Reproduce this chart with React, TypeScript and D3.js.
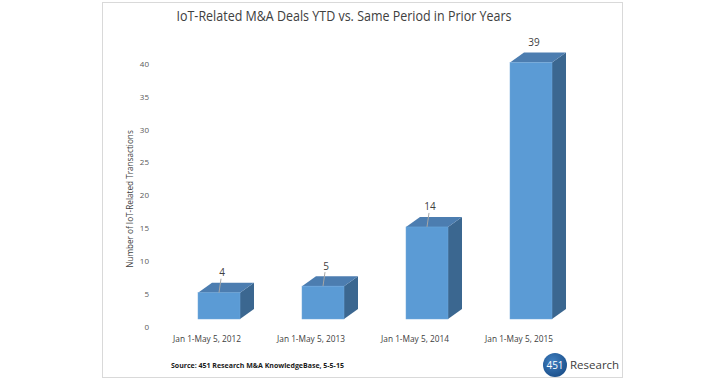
import React from "react";
import * as d3 from "d3";

const categories = ["Jan 1-May 5, 2012", "Jan 1-May 5, 2013", "Jan 1-May 5, 2014", "Jan 1-May 5, 2015"];
const deals = [4, 5, 14, 39];
const yTicks = [0, 5, 10, 15, 20, 25, 30, 35, 40];
const title = "IoT-Related M&A Deals YTD vs. Same Period in Prior Years";
const yTitle = "Number of IoT-Related Transactions";
const source = "Source:  451 Research M&A KnowledgeBase, 5-5-15";

const W = 724;
const H = 381;
const FONT = "'Open Sans', 'Noto Sans', sans-serif";

export default function App() {
  const x = d3.scaleBand<string>().domain(categories).range([167, 583]).paddingInner(0).paddingOuter(0);
  const y = d3.scaleLinear().domain([0, 40]).range([319, 56]);
  const barW = 42;
  const dx = 14;
  const dy = -10;
  const front = "#5B9BD5";
  const top = "#4C7DB0";
  const side = "#3B6790";

  return (
    <svg width={W} height={H} style={{ position: "absolute", left: 0, top: 0, background: "#fff" }}>
      <rect x={0} y={0} width={W} height={H} fill="#fff" />
      <rect x={102.5} y={2.5} width={520} height={375} fill="#fff" stroke="#d9d9d9" strokeWidth={1} />
      <text x={344} y={21} textAnchor="middle" fontFamily={FONT} fontSize={14.5} fill="#404040"
        textLength={335} lengthAdjust="spacingAndGlyphs">
        {title}
      </text>
      {yTicks.map((t) => (
        <text key={t} x={149} y={y(t) + 8} dy="0.35em" textAnchor="end" fontFamily={FONT} fontSize={8} fill="#595959">
          {t}
        </text>
      ))}
      <text
        transform={`translate(130,199) rotate(-90)`}
        textAnchor="middle"
        dy="0.35em"
        fontFamily={FONT}
        fontSize={8.2}
        fill="#404040"
      >
        {yTitle}
      </text>
      {categories.map((c, i) => {
        const cx = (x(c) as number) + x.bandwidth() / 2;
        const x0 = cx - barW / 2;
        const x1 = cx + barW / 2;
        const yb = y(0);
        const yt = y(deals[i]);
        const topPts = [
          [x0, yt],
          [x1, yt],
          [x1 + dx, yt + dy],
          [x0 + dx, yt + dy],
        ];
        const sidePts = [
          [x1, yt],
          [x1 + dx, yt + dy],
          [x1 + dx, yb + dy],
          [x1, yb],
        ];
        const lx = cx + 3;
        const ly = yt - 20;
        return (
          <g key={c}>
            <polygon points={sidePts.map((p) => p.join(",")).join(" ")} fill={side} />
            <polygon points={topPts.map((p) => p.join(",")).join(" ")} fill={top} />
            <rect x={x0} y={yt} width={barW} height={yb - yt} fill={front} stroke="#6FA8DC" strokeWidth={0.5} />
            {i < categories.length - 1 && (
              <line x1={lx - 1} y1={ly + 6} x2={cx} y2={yt} stroke="#a6a6a6" strokeWidth={1} />
            )}
            <text x={lx} y={ly} dy="0.35em" textAnchor="middle" fontFamily={FONT} fontSize={10} fill="#404040">
              {deals[i]}
            </text>
            <text x={cx - 12} y={339} dy="0.35em" textAnchor="middle" fontFamily={FONT} fontSize={8.3} fill="#404040">
              {c}
            </text>
          </g>
        );
      })}
      <text x={171} y={366} dy="0.35em" fontFamily={FONT} fontSize={7} fontWeight="bold" fill="#1a1a1a">
        {source}
      </text>
      <defs>
        <radialGradient id="logoGrad" cx="40%" cy="35%" r="70%">
          <stop offset="0%" stopColor="#3F7FC0" />
          <stop offset="100%" stopColor="#1B4F8A" />
        </radialGradient>
      </defs>
      <circle cx={555} cy={365} r={12} fill="url(#logoGrad)" />
      <text x={555} y={365} dy="0.35em" textAnchor="middle" fontFamily={FONT} fontSize={10} fill="#fff">
        451
      </text>
      <text x={570} y={365} dy="0.35em" fontFamily={FONT} fontSize={11.5} fill="#404040">
        Research
      </text>
    </svg>
  );
}
